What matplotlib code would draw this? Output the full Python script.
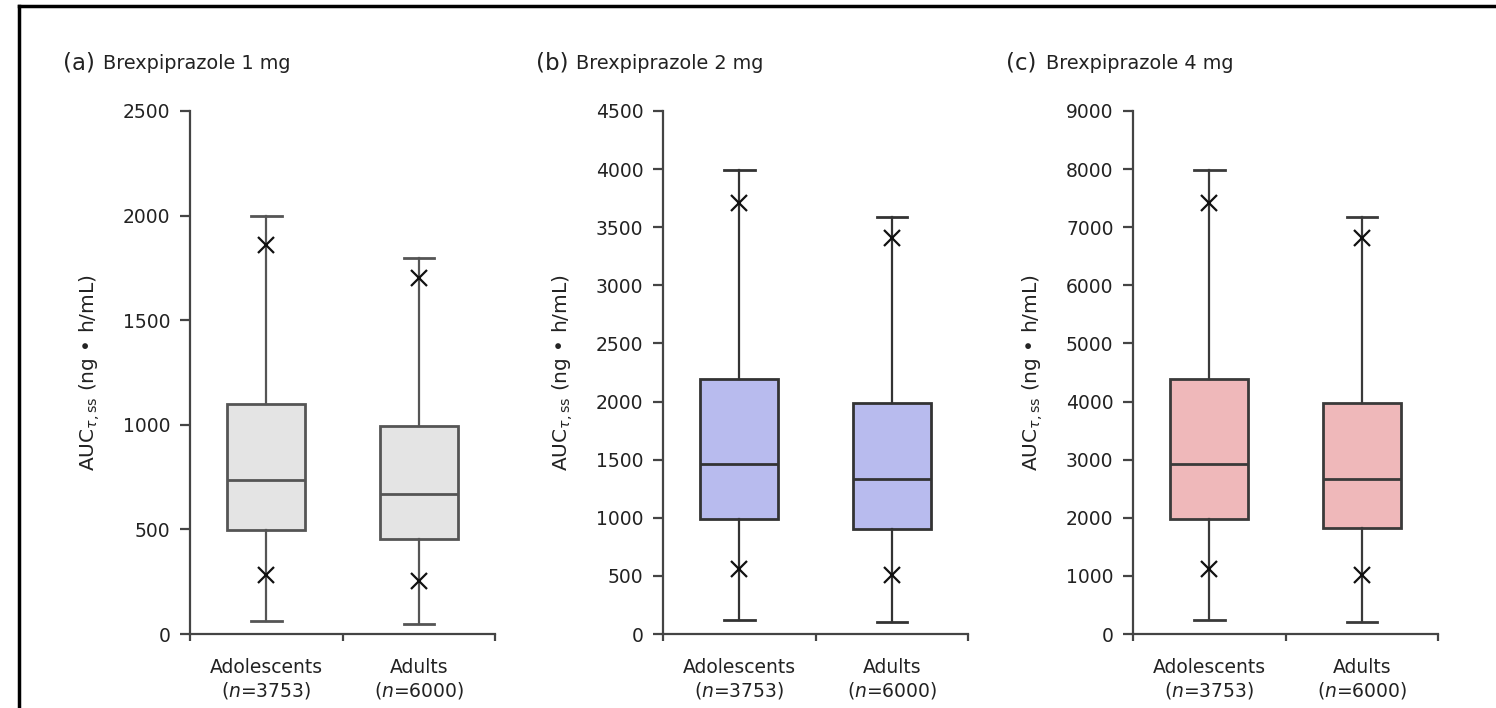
import matplotlib
matplotlib.use("Agg")
import matplotlib.pyplot as plt
from matplotlib.lines import Line2D

plt.rcParams["font.family"] = ["DejaVu Sans"]
plt.rcParams["mathtext.fontset"] = "dejavusans"

# data (AUC tau,ss, ng*h/mL)
groups = ["Adolescents", "Adults"]
group_n = [3753, 6000]
panel_letters = ["(a)", "(b)", "(c)"]
panel_doses = ["Brexpiprazole 1 mg", "Brexpiprazole 2 mg", "Brexpiprazole 4 mg"]
y_max = [2500, 4500, 9000]
y_step = [500, 500, 1000]

whisker_low = [[60, 50], [120, 100], [240, 200]]
q1 = [[495, 455], [990, 905], [1985, 1820]]
median = [[735, 670], [1465, 1335], [2930, 2670]]
q3 = [[1100, 995], [2195, 1985], [4390, 3970]]
whisker_high = [[2000, 1795], [3990, 3590], [7980, 7170]]
# x markers (percentiles inside the whiskers)
mark_low = [[280, 255], [555, 510], [1110, 1020]]
mark_high = [[1860, 1700], [3710, 3410], [7420, 6810]]

box_colors = ["#e4e4e4", "#b8bbee", "#efb8ba"]
edge_colors = ["#555555", "#333333", "#3a3a3a"]

fig = plt.figure(figsize=(14.96, 7.08), dpi=100)

lefts = [190, 663, 1133]
ax_w = 305 / 1496
ax_b = 1 - 634 / 708
ax_h = (634 - 111) / 708

for i in range(3):
    ax = fig.add_axes([lefts[i] / 1496, ax_b, ax_w, ax_h])
    stats = []
    for j in range(2):
        stats.append({
            "whislo": whisker_low[i][j], "q1": q1[i][j], "med": median[i][j],
            "q3": q3[i][j], "whishi": whisker_high[i][j], "fliers": [],
        })
    ec = edge_colors[i]
    ax.bxp(stats, positions=[0.5, 1.5], widths=0.51, patch_artist=True,
           showfliers=False, capwidths=0.2,
           boxprops=dict(facecolor=box_colors[i], edgecolor=ec, linewidth=2),
           medianprops=dict(color=ec, linewidth=2),
           whiskerprops=dict(color=ec, linewidth=1.6),
           capprops=dict(color=ec, linewidth=2))
    ax.plot([0.5, 1.5], mark_low[i], "x", color="#111111", ms=11, mew=1.6)
    ax.plot([0.5, 1.5], mark_high[i], "x", color="#111111", ms=11, mew=1.6)

    ax.set_xlim(0, 2)
    ax.set_ylim(0, y_max[i])
    ax.set_yticks(range(0, y_max[i] + 1, y_step[i]))
    ax.set_xticks([0, 1, 2])
    ax.set_xticklabels([])
    ax.set_xticks([0.5, 1.5], minor=True)
    ax.set_xticklabels([f"{g}\n($\\it{{n}}$={n})" for g, n in zip(groups, group_n)],
                       minor=True, fontsize=13.5, color="#222222", linespacing=1.2)
    ax.tick_params(axis="x", which="minor", length=0, pad=17)
    ax.tick_params(axis="x", which="major", length=5, width=1.6, color="#444444")
    ax.tick_params(axis="y", length=7, width=1.6, color="#444444", labelsize=13.5,
                   labelcolor="#222222", pad=7)
    for s in ["top", "right"]:
        ax.spines[s].set_visible(False)
    for s in ["left", "bottom"]:
        ax.spines[s].set_color("#444444")
        ax.spines[s].set_linewidth(1.6)
    ax.set_ylabel(r"AUC$_{\tau,\mathrm{ss}}$ (ng • h/mL)", fontsize=14.5,
                  color="#222222", labelpad=15)

    tx = (lefts[i] - 127) / 1496
    fig.text(tx, 1 - 69 / 708, panel_letters[i], fontsize=16.5, color="#222222",
             va="baseline")
    fig.text(tx + 40 / 1496, 1 - 69 / 708, panel_doses[i], fontsize=13.9,
             color="#222222", va="baseline")

# outer frame (top and left edges only, as in the source scan)
fig.add_artist(Line2D([19 / 1496, 1], [1 - 6 / 708, 1 - 6 / 708], color="black", lw=2.5))
fig.add_artist(Line2D([19 / 1496, 19 / 1496], [0, 1 - 6 / 708], color="black", lw=2.5))

fig.savefig("out.png", dpi=100)
